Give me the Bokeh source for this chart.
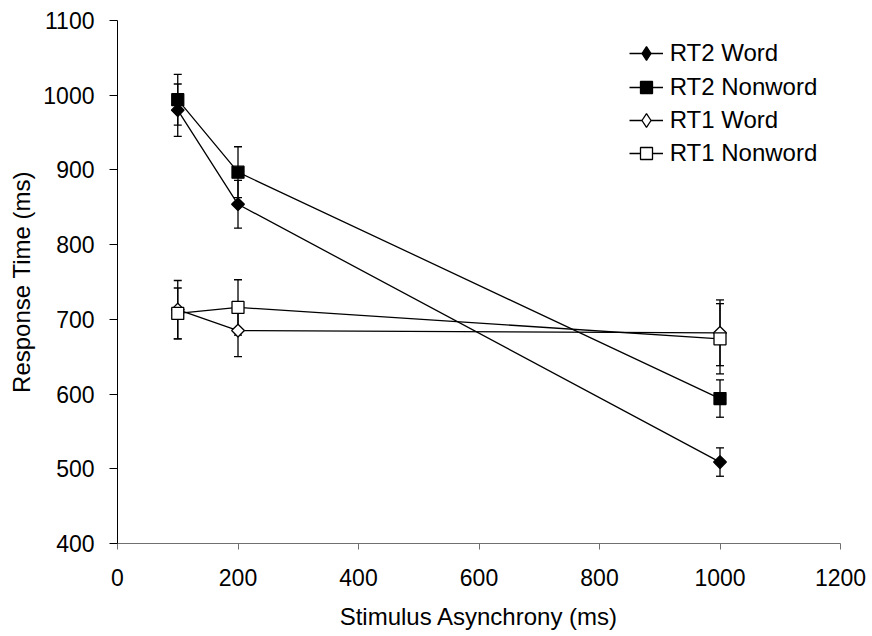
import math
from bokeh.plotting import figure
from bokeh.models import (ColumnDataSource, Whisker, TeeHead, Legend, LegendItem,
                          FixedTicker, Range1d)
from bokeh.embed import file_html
from bokeh.resources import INLINE

# ---- data ----
soa = [100, 200, 1000]
rt2_word = [980, 854, 509]
rt2_word_err = [35, 32, 19]
rt2_nonword = [994, 897, 594]
rt2_nonword_err = [34, 34, 25]
rt1_word = [713, 685, 682]
rt1_word_err = [39, 35, 44]
rt1_nonword = [708, 716, 674]
rt1_nonword_err = [34, 37, 47]

series_labels = ["RT2 Word", "RT2 Nonword", "RT1 Word", "RT1 Nonword"]
x_ticks = [0, 200, 400, 600, 800, 1000, 1200]
y_ticks = [400, 500, 600, 700, 800, 900, 1000, 1100]

FONT = "Liberation Sans"
FS_TICK = "23px"
FS_TEXT = "24px"

W, H = 868, 636
BL, BR, BT, BB = 117, 28, 20, 93

p = figure(width=W, height=H, output_backend="svg", toolbar_location=None,
           x_range=Range1d(0, 1200), y_range=Range1d(400, 1100),
           min_border_left=BL, min_border_right=BR, min_border_top=BT, min_border_bottom=BB)
p.outline_line_color = None
p.grid.visible = False
p.background_fill_color = "white"

# axes
p.xaxis.ticker = FixedTicker(ticks=x_ticks)
p.yaxis.ticker = FixedTicker(ticks=y_ticks)
p.xaxis.axis_label = "Stimulus Asynchrony (ms)"
p.yaxis.axis_label = "Response Time (ms)"
for ax in (p.xaxis[0], p.yaxis[0]):
    ax.major_label_text_font = FONT
    ax.major_label_text_font_size = FS_TICK
    ax.major_label_text_color = "black"
    ax.axis_label_text_font = FONT
    ax.axis_label_text_font_size = FS_TEXT
    ax.axis_label_text_font_style = "normal"
    ax.axis_label_text_color = "black"
    ax.minor_tick_line_color = None
    ax.major_tick_in = 0
p.yaxis.axis_line_color = "black"
p.yaxis.major_tick_line_color = "black"
p.yaxis.major_tick_out = 8
p.yaxis.major_label_standoff = 15
p.yaxis.axis_label_standoff = 5
p.xaxis.axis_line_color = "#707070"
p.xaxis.major_tick_line_color = "#707070"
p.xaxis.major_tick_out = 6
p.xaxis.major_label_standoff = 19
p.xaxis.axis_label_standoff = 14

values = [rt2_word, rt2_nonword, rt1_word, rt1_nonword]
errors = [rt2_word_err, rt2_nonword_err, rt1_word_err, rt1_nonword_err]
is_diamond = [True, False, True, False]
fills = ["black", "black", "white", "white"]

# error bars
for vals, errs in zip(values, errors):
    src = ColumnDataSource(dict(x=soa,
                                upper=[v + e for v, e in zip(vals, errs)],
                                lower=[v - e for v, e in zip(vals, errs)]))
    w = Whisker(source=src, base="x", upper="upper", lower="lower", dimension="height",
                line_color="black", line_width=1.3, level="underlay",
                upper_head=TeeHead(size=8, line_color="black", line_width=1.3),
                lower_head=TeeHead(size=8, line_color="black", line_width=1.3))
    p.add_layout(w)

legend_renderers = []
for vals, dia, fill in zip(values, is_diamond, fills):
    src = ColumnDataSource(dict(x=soa, y=vals))
    ln = p.line("x", "y", source=src, line_color="black", line_width=1.3)
    if dia:
        # legend-only diamond marker (zero size in the plot, hidden under the marker)
        lg_mark = p.scatter("x", "y", source=src, marker="diamond", size=0,
                            fill_color=fill, line_color="black", line_width=1.3)
        p.scatter("x", "y", source=src, marker="square", angle=math.pi / 4, size=9,
                  fill_color=fill, line_color="black", line_width=1.3)
    else:
        lg_mark = p.scatter("x", "y", source=src, marker="square", size=12,
                            fill_color=fill, line_color="black", line_width=1.3)
    legend_renderers.append([ln, lg_mark])

# legends: one per item so diamond/square glyph boxes can differ
frame_h = H - BT - BB
for i, (label, rends, dia) in enumerate(zip(series_labels, legend_renderers, is_diamond)):
    gh = 34 if dia else 30
    center_from_top = 33.3 + 33.3 * i
    lg = Legend(items=[LegendItem(label=label, renderers=rends)],
                location=(511.7, frame_h - center_from_top - gh / 2),
                glyph_width=34, glyph_height=gh, label_height=gh,
                label_standoff=7, padding=0, margin=0, spacing=0,
                border_line_color=None, background_fill_alpha=0,
                label_text_font=FONT, label_text_font_size=FS_TEXT, label_text_color="black")
    p.add_layout(lg, "center")

open("out.html", "w").write(file_html(p, INLINE))
